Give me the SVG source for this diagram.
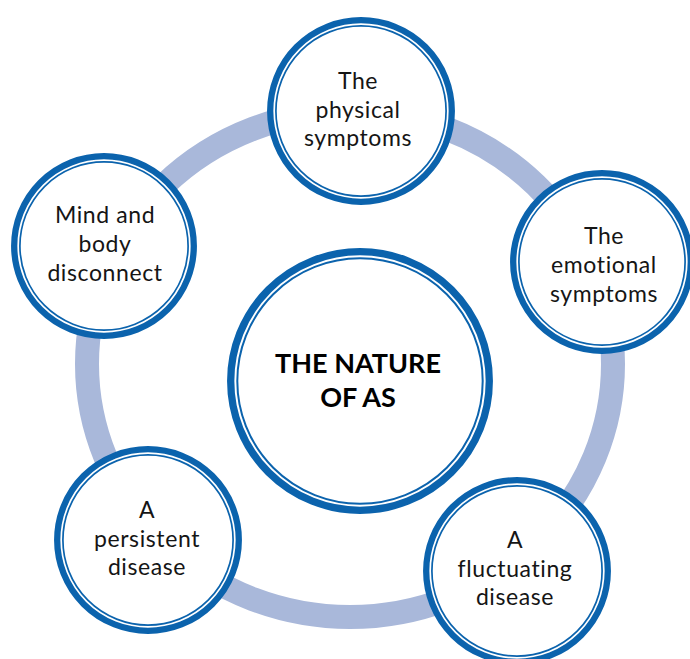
<svg xmlns="http://www.w3.org/2000/svg" width="690" height="659" viewBox="0 0 690 659">
<style>
.ring{fill:none;stroke:#a9b8da;stroke-width:24}
.o{fill:#fff;stroke:#0b63ad;stroke-width:6.3}
.i{fill:none;stroke:#0b63ad;stroke-width:1.7}
.co{fill:#fff;stroke:#0b63ad;stroke-width:7.3}
.ci{fill:none;stroke:#0b63ad;stroke-width:2}
.t{font-family:Lato,"Open Sans","Liberation Sans",sans-serif;font-size:23px;letter-spacing:0.6px;fill:#151515;text-anchor:middle}
.b{font-family:Lato,"Open Sans","Liberation Sans",sans-serif;font-size:27px;font-weight:bold;fill:#000;text-anchor:middle}
</style>
<rect width="690" height="659" fill="#fff"/>
<g id="connectors">
<ellipse class="ring" cx="350" cy="364" rx="263" ry="253"/>
</g>
<g id="center">
<circle class="co" cx="360" cy="381" r="129.3"/>
<circle class="ci" cx="360" cy="381" r="122.7"/>
<text class="b" x="358" y="373">THE NATURE</text>
<text class="b" x="358" y="407">OF AS</text>
</g>
<g id="physical">
<circle class="o" cx="361" cy="111" r="90.8"/>
<circle class="i" cx="361" cy="111" r="85.1"/>
<text class="t" x="358" y="89">The</text>
<text class="t" x="358" y="117.5">physical</text>
<text class="t" x="358" y="146">symptoms</text>
</g>
<g id="emotional">
<circle class="o" cx="602" cy="262" r="88.8"/>
<circle class="i" cx="602" cy="262" r="83.1"/>
<text class="t" x="604" y="244">The</text>
<text class="t" x="604" y="273">emotional</text>
<text class="t" x="604" y="302">symptoms</text>
</g>
<g id="fluctuating">
<circle class="o" cx="517" cy="571" r="90.8"/>
<circle class="i" cx="517" cy="571" r="85.1"/>
<text class="t" x="515" y="548">A</text>
<text class="t" x="515" y="577">fluctuating</text>
<text class="t" x="515" y="605">disease</text>
</g>
<g id="persistent">
<circle class="o" cx="148" cy="540" r="90.8"/>
<circle class="i" cx="148" cy="540" r="85.1"/>
<text class="t" x="147" y="518">A</text>
<text class="t" x="147" y="547">persistent</text>
<text class="t" x="147" y="575">disease</text>
</g>
<g id="mindbody">
<circle class="o" cx="104" cy="246" r="89.8"/>
<circle class="i" cx="104" cy="246" r="84.1"/>
<text class="t" x="105" y="223">Mind and</text>
<text class="t" x="105" y="252">body</text>
<text class="t" x="105" y="281">disconnect</text>
</g>
</svg>
